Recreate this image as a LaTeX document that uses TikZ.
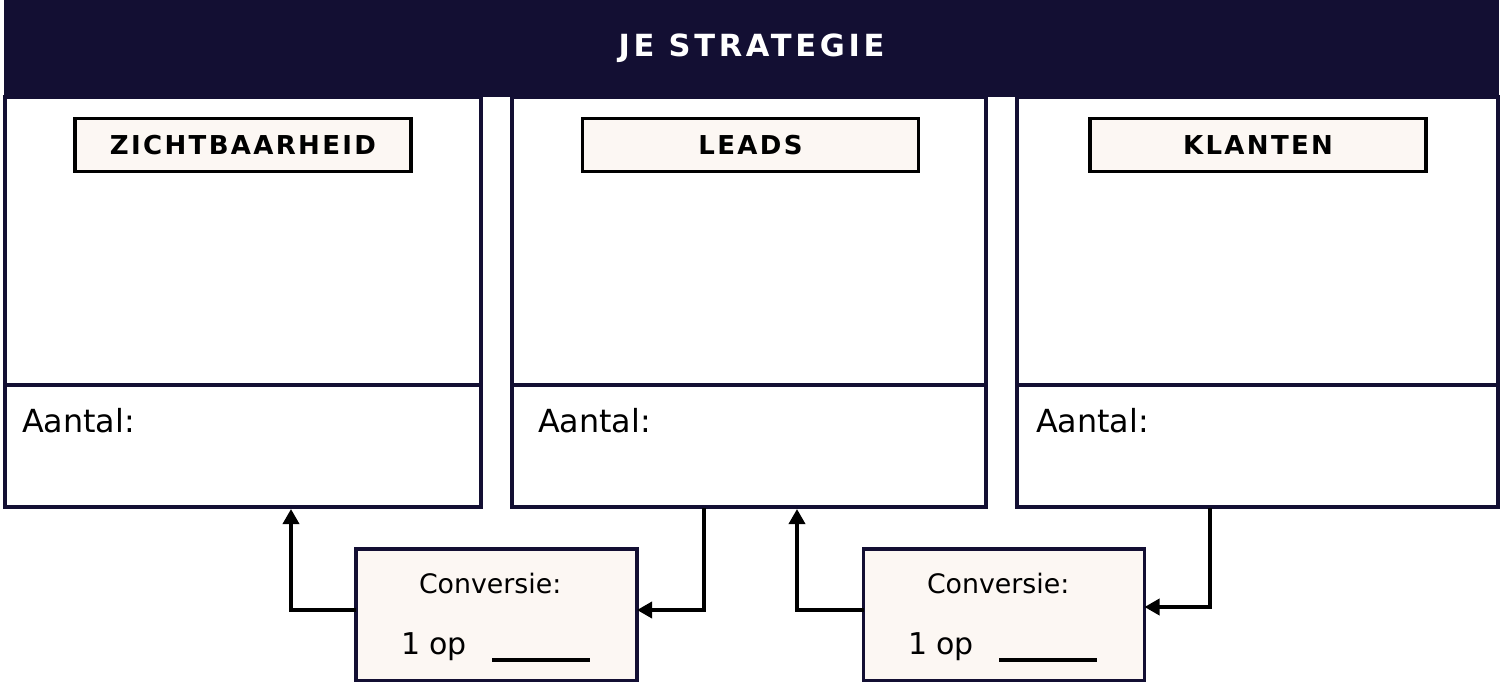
\documentclass[tikz,border=0pt]{standalone}
\usepackage{fontspec}
\setmainfont{DejaVu Sans}
\usetikzlibrary{arrows.meta}
\definecolor{navy}{RGB}{19,15,51}
\definecolor{cream}{RGB}{252,247,243}
\tikzset{
  panel/.style={draw=navy, line width=3.2pt, fill=white, inner sep=0pt, outer sep=0pt},
  labelbox/.style={draw=black, line width=3.4pt, fill=cream, inner sep=0pt, outer sep=0pt,
    minimum width=336pt, minimum height=53pt,
    font=\fontsize{26}{31}\selectfont\bfseries\addfontfeatures{LetterSpace=9}},
  convbox/.style={draw=navy, line width=3.2pt, fill=cream, inner sep=0pt, outer sep=0pt,
    minimum width=281pt, minimum height=132pt},
  txt/.style={inner sep=0pt, outer sep=0pt, anchor=base west},
  conn/.style={draw=black, line width=3.5pt, -{Triangle[length=15pt,width=16pt]}},
}
\begin{document}
\begin{tikzpicture}[x=1pt,y=-1pt]
\useasboundingbox (0,0) rectangle (1506,682);
% panels: top and bottom parts
\node[panel, minimum width=476pt, minimum height=288pt] (u1) at (243,241) {};
\node[panel, minimum width=476pt, minimum height=122pt] (a1) at (243,446) {};
\node[panel, minimum width=474pt, minimum height=288pt] (u2) at (749,241) {};
\node[panel, minimum width=474pt, minimum height=122pt] (a2) at (749,446) {};
\node[panel, minimum width=481pt, minimum height=288pt] (u3) at (1257.5,241) {};
\node[panel, minimum width=481pt, minimum height=122pt] (a3) at (1257.5,446) {};
% header
\node[fill=navy, inner sep=0pt, outer sep=0pt, minimum width=1495pt, minimum height=97pt,
  text=white, font=\fontsize{30.5}{36}\selectfont\bfseries\addfontfeatures{LetterSpace=12}]
  (hdr) at (751.5,48.5) {JE STRATEGIE};
% labels
\node[labelbox] (l1) at (243,145) {ZICHTBAARHEID};
\node[labelbox] (l2) at (750.5,145) {LEADS};
\node[labelbox] (l3) at (1258,145) {KLANTEN};
% Aantal
\node[txt, font=\fontsize{31.8}{38}\selectfont] (t1) at (22,432) {Aantal:};
\node[txt, font=\fontsize{31.8}{38}\selectfont] (t2) at (538,432) {Aantal:};
\node[txt, font=\fontsize{31.8}{38}\selectfont] (t3) at (1036,432) {Aantal:};
% conversion boxes
\node[convbox] (c1) at (496.5,615) {};
\node[convbox] (c2) at (1004,615) {};
\node[txt, font=\fontsize{26.8}{32}\selectfont] (cv1) at (419,593) {Conversie:};
\node[txt, font=\fontsize{26.8}{32}\selectfont] (cv2) at (927,593) {Conversie:};
\node[txt, font=\fontsize{30}{36}\selectfont] (op1) at (401,654) {1 op};
\node[txt, font=\fontsize{30}{36}\selectfont] (op2) at (908,654) {1 op};
\draw[line width=3.5pt] (492,660) -- (590,660);
\draw[line width=3.5pt] (999,660) -- (1097,660);
% connectors
\coordinate (e1) at (291,509);
\coordinate (s2) at (704,508);
\coordinate (e2) at (797,509);
\coordinate (s3) at (1210,508);
\draw[conn] ([yshift=5pt]c1.west) -| (e1);
\draw[conn] (s2) |- ([yshift=5pt]c1.east);
\draw[conn] ([yshift=5pt]c2.west) -| (e2);
\draw[conn] (s3) |- ([yshift=8pt]c2.east);
\end{tikzpicture}
\end{document}
